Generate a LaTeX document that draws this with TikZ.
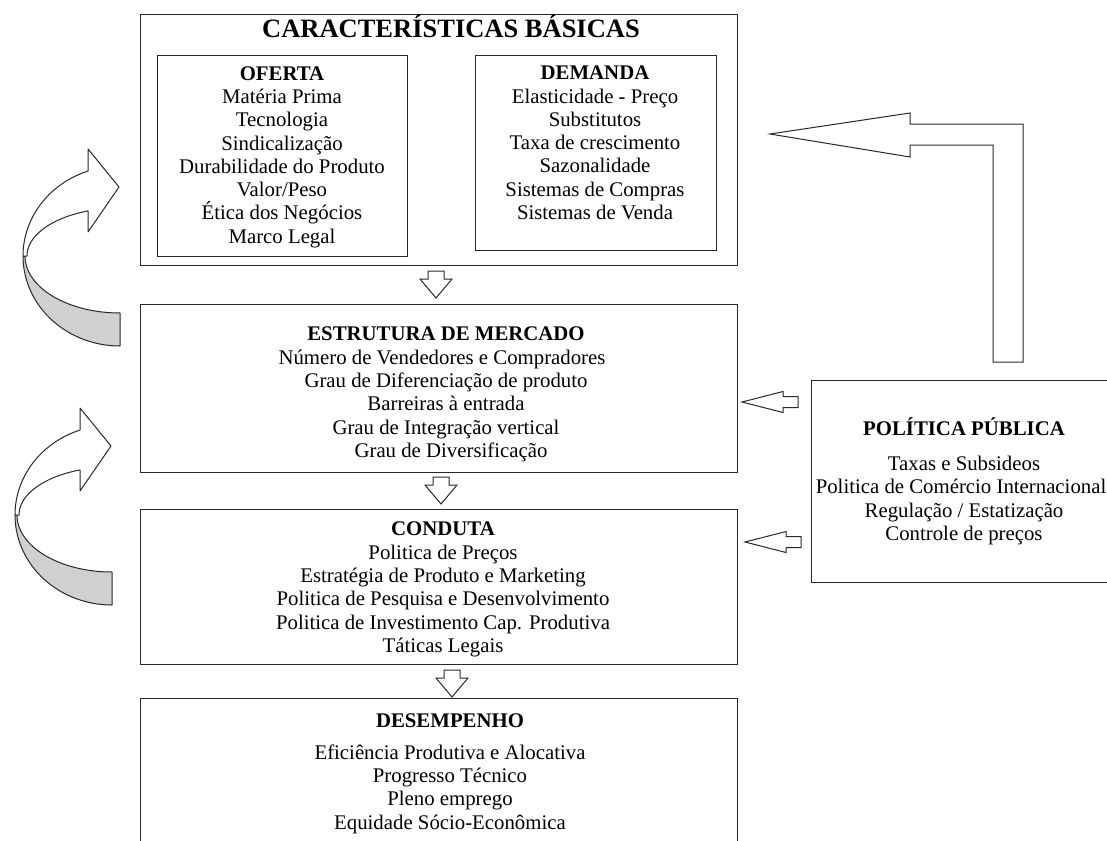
\documentclass[tikz,border=0pt]{standalone}
\usepackage{fontspec}
\setmainfont{Liberation Serif}
\newcommand\bodyfont{\fontsize{20.8}{23.3}\selectfont}
\newcommand\cbfont{\fontsize{26.5}{30}\selectfont\bfseries}
\definecolor{bandgray}{RGB}{208,208,208}
\definecolor{linecol}{RGB}{40,40,40}
\tikzset{
  box/.style={draw=linecol, line width=1.2pt, inner sep=0pt},
  blockarrow/.style={draw=linecol, line width=1pt, fill=white, line join=miter},
  bandline/.style={draw=linecol, line width=1pt, line join=round},
  body/.style={font=\bodyfont, align=center, inner sep=0pt, text=black},
  pics/downarr/.style={code={
    \draw[blockarrow] (-8,0) -- (8,0) -- (8,8) -- (16,8) -- (0,27) -- (-16,8) -- (-8,8) -- cycle;}},
  pics/leftarr/.style={code={
    \draw[blockarrow] (0,0) -- (41,-10.5) -- (41,-5.5) -- (56,-5.5) -- (56,5.5) -- (41,5.5) -- (41,10.5) -- cycle;}},
  pics/curvearr/.style={code={
    \draw[bandline, fill=bandgray] (23,256)
      -- plot[domain=180:270, samples=40, variable=\t] ({120+97*cos(\t)},{256-90*sin(\t)})
      -- (120,313)
      -- plot[domain=270:180, samples=40, variable=\t] ({120+95*cos(\t)},{256-57*sin(\t)})
      -- cycle;
    \draw[bandline, fill=white] (88,171) -- (88,149) -- (119,187) -- (88,232) -- (88,211)
      -- plot[domain=110.1:180, samples=40, variable=\t] ({120+93*cos(\t)},{256-48*sin(\t)})
      -- (23,256)
      -- plot[domain=180:109.26, samples=40, variable=\t] ({120+97*cos(\t)},{256-90*sin(\t)})
      -- cycle;}}
}
\begin{document}
\begin{tikzpicture}[x=1pt, y=-1pt]
\useasboundingbox (0,0) rectangle (1107,840);
\fill[white] (0,0) rectangle (1107,840);

% boxes
\node[box, minimum width=597pt, minimum height=251pt, anchor=north west] (cb) at (140,14) {};
\node[box, minimum width=250pt, minimum height=201pt, anchor=north west] (of) at (157,55) {};
\node[box, minimum width=241pt, minimum height=195pt, anchor=north west] (de) at (475,55) {};
\node[box, minimum width=597pt, minimum height=168pt, anchor=north west] (est) at (140,304) {};
\node[box, minimum width=597pt, minimum height=155pt, anchor=north west] (con) at (140,509) {};
\node[box, minimum width=597pt, minimum height=160pt, anchor=north west] (des) at (140,698) {};
\node[box, minimum width=310pt, minimum height=202pt, anchor=north west] (pol) at (811,380) {};

% texts
\node[anchor=base, inner sep=0pt, font=\cbfont] (cbt) at (451,38) {CARACTERÍSTICAS BÁSICAS};
\node[body] (oft) at (282,157) {\strut\textbf{OFERTA}\\Matéria Prima\\Tecnologia\\Sindicalização\\Durabilidade do Produto\\Valor/Peso\\Ética dos Negócios\\Marco Legal\strut};
\node[body] (det) at (595,145) {\strut\textbf{DEMANDA}\\Elasticidade - Preço\\Substitutos\\Taxa de crescimento\\Sazonalidade\\Sistemas de Compras\\Sistemas de Venda\strut};
\node[body] (estt) at (446,394.5) {\strut\textbf{ESTRUTURA DE MERCADO}\\\hspace*{-8pt}Número de Vendedores e Compradores\\Grau de Diferenciação de produto\\Barreiras à entrada\\Grau de Integração vertical\\\hspace*{10pt}Grau de Diversificação\strut};
\node[body] (cont) at (443,589.5) {\strut\textbf{CONDUTA}\\Politica de Preços\\Estratégia de Produto e Marketing\\Politica de Pesquisa e Desenvolvimento\\Politica de Investimento Cap. Produtiva\\Táticas Legais\strut};
\node[body] (dest) at (450,773.5) {\strut\textbf{DESEMPENHO}\\[9pt]Eficiência Produtiva e Alocativa\\Progresso Técnico\\Pleno emprego\\Equidade Sócio-Econômica\strut};
\node[body] (polt) at (964,482.5) {\strut\textbf{POLÍTICA PÚBLICA}\\[12pt]Taxas e Subsideos\\\hspace*{-6pt}Politica de Comércio Internacional\\Regulação / Estatização\\Controle de preços\strut};

% block arrows between boxes
\pic at (436,271) {downarr};
\pic at (441,477) {downarr};
\pic at (452,670) {downarr};
\pic at (742,402) {leftarr};
\pic at (745,542) {leftarr};
\draw[blockarrow] (770,134) -- (910,113) -- (910,124) -- (1023,124) -- (1023,362) -- (993,362) -- (993,145) -- (910,145) -- (910,157) -- cycle;

% curved feedback arrows
\pic at (0,0) {curvearr};
\pic at (-8,259) {curvearr};
\end{tikzpicture}
\end{document}
